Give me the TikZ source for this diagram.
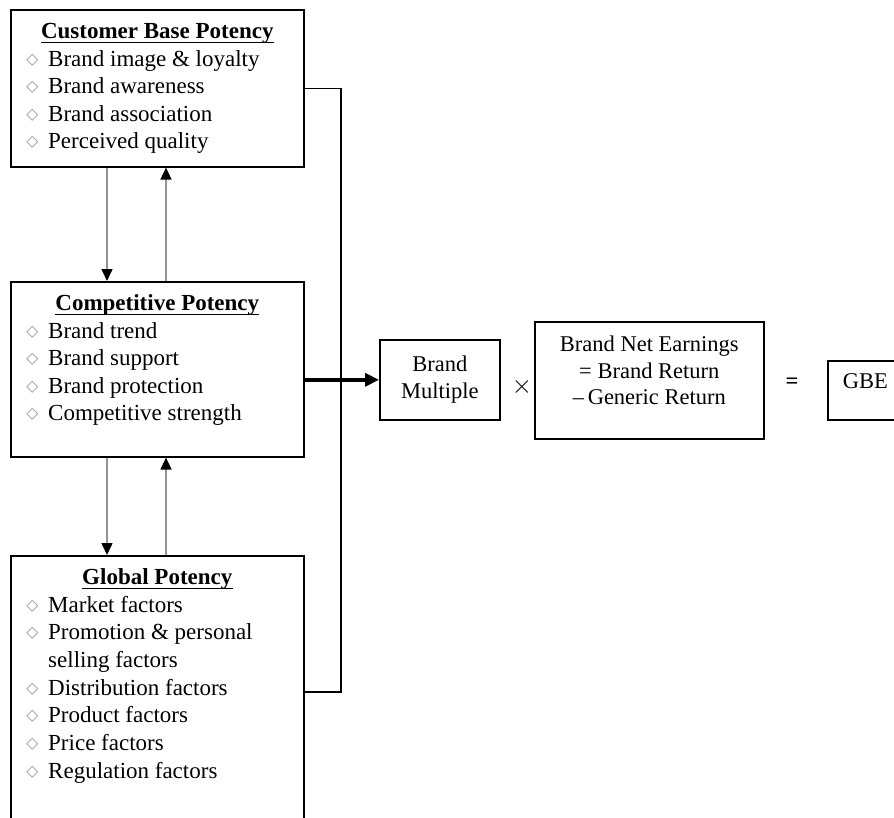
\documentclass[tikz,border=0pt]{standalone}
\usepackage{fontspec}
\setmainfont{Liberation Serif}
\usetikzlibrary{arrows.meta,calc}

\newcommand\potdia{\makebox[22pt][l]{\textcolor{gray!70}{$\diamond$}}}
\newcommand\potgap{\makebox[22pt][l]{}}

\begin{document}
\begin{tikzpicture}[x=1pt,y=-1pt,
  potbox/.style={draw,line width=1.6pt,anchor=north west,minimum width=293pt,inner sep=0pt},
  eqbox/.style={draw,line width=1.6pt,anchor=north west,inner sep=0pt},
  title/.style={anchor=base,inner sep=0pt,font=\fontsize{23}{27}\selectfont\bfseries},
  entry/.style={anchor=base west,inner sep=0pt,font=\fontsize{23}{27}\selectfont},
  eqtext/.style={align=center,inner sep=0pt,font=\fontsize{22.5}{26.5}\selectfont},
  feedback/.style={gray!85,line width=1.6pt,-{Triangle[black,length=12pt,width=11pt]}},
  link/.style={line width=1.6pt},
  main/.style={line width=3.4pt,-{Triangle[length=14pt,width=13pt]}}]

  \clip (0,0) rectangle (894,817);

  % potency boxes
  \node [potbox,minimum height=157pt] (cbp) at (10,9) {};
  \node [potbox,minimum height=175pt] (cp) at (10,281) {};
  \node [potbox,minimum height=272pt] (gp) at (10,555) {};

  \foreach \b/\t in {cbp/Customer Base Potency, cp/Competitive Potency, gp/Global Potency} {
    \node [title] (\b-t) at ($(\b.north)+(0,29)$) {\t};
    \draw [line width=1.1pt] ([yshift=-4.5pt]\b-t.base west) -- ([yshift=-4.5pt]\b-t.base east);
  }

  \foreach \t [count=\i] in {Brand image \& loyalty, Brand awareness, Brand association, Perceived quality}
    \node [entry] (cbp-\i) at ($(cbp.north west)+(16,{57+27.6*(\i-1)})$) {\potdia\t};
  \foreach \t [count=\i] in {Brand trend, Brand support, Brand protection, Competitive strength}
    \node [entry] (cp-\i) at ($(cp.north west)+(16,{57+27.6*(\i-1)})$) {\potdia\t};
  \foreach \m/\t [count=\i] in {\potdia/Market factors, \potdia/Promotion \& personal, \potgap/selling factors,
      \potdia/Distribution factors, \potdia/Product factors, \potdia/Price factors, \potdia/Regulation factors}
    \node [entry] (gp-\i) at ($(gp.north west)+(16,{57+27.7*(\i-1)})$) {\m\t};

  \draw [feedback] ([xshift=97pt]cbp.south west) -- ([xshift=97pt]cp.north west);
  \draw [feedback] ([xshift=156pt]cp.north west) -- ([xshift=156pt]cbp.south west);
  \draw [feedback] ([xshift=97pt]cp.south west) -- ([xshift=97pt]gp.north west);
  \draw [feedback] ([xshift=156pt]gp.north west) -- ([xshift=156pt]cp.south west);

  \coordinate (bus) at (341,0);
  \draw [link] (cbp.east) -| (bus |- gp.east) -- (gp.east);

  % valuation
  \node [eqbox,eqtext,anchor=north west,minimum width=120pt,minimum height=80pt] (bm) at (379,339) {Brand\\Multiple};
  \draw [main] (cp.east |- bm.west) -- (bm.west);
  \node [eqtext] (mult) at (522,387) {\scalebox{1.25}{$\times$}};
  \node [eqbox,minimum width=229pt,minimum height=117pt] (bne) at (534,321) {};
  \node [eqtext,anchor=north] (bne-t) at ($(bne.north)+(0,15)$) {Brand Net Earnings\\= Brand Return\\--\,Generic Return};
  \node [eqtext] (eq) at (792,383) {\textbf{=}};
  \node [eqbox,font=\fontsize{22.5}{26}\selectfont,minimum width=75pt,text height=28pt,text depth=31pt] (gbe) at (827,360) {GBE};
\end{tikzpicture}
\end{document}
